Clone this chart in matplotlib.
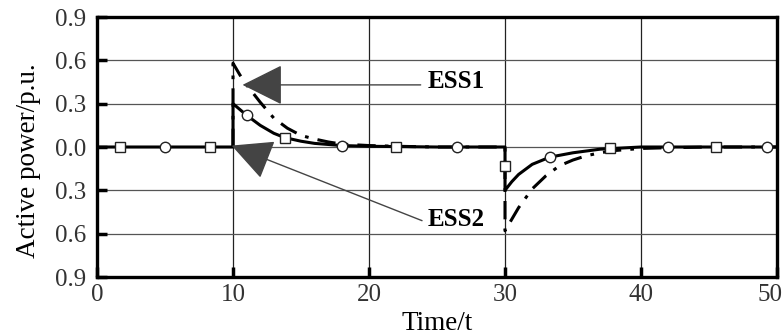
import matplotlib
matplotlib.use("Agg")
import matplotlib.pyplot as plt
import matplotlib.transforms as mtransforms
import numpy as np

# ---- data ----
t_ess2 = [0, 10, 10, 10.5, 11, 12, 13, 13.8, 15, 16, 18, 20, 25, 30, 30, 30.5, 31, 32, 33.3, 35, 37, 38, 40, 45, 50]
p_ess2 = [0, 0, 0.30, 0.26, 0.22, 0.15, 0.095, 0.065, 0.04, 0.025, 0.01, 0.005, 0, 0, -0.30, -0.24, -0.19, -0.12, -0.07, -0.04, -0.015, -0.01, 0, 0, 0]

t_ess1 = [10, 10, 10.5, 11, 12, 13, 14, 15, 16, 17, 18, 20, 22, 25, 30, 30, 30.5, 31, 32, 33, 34, 35, 36, 37, 38, 40, 42, 45, 50]
p_ess1 = [0, 0.58, 0.50, 0.43, 0.31, 0.20, 0.13, 0.08, 0.055, 0.035, 0.02, 0.01, 0.005, 0, 0, -0.58, -0.50, -0.42, -0.29, -0.20, -0.13, -0.09, -0.06, -0.04, -0.025, -0.01, -0.005, 0, 0]

t_sq = [1.7, 8.3, 13.8, 22, 30, 37.7, 45.5]
p_sq = [0, 0, 0.065, 0, -0.13, -0.01, 0]
t_ci = [5, 11, 18, 26.5, 33.3, 42, 49.3]
p_ci = [0, 0.22, 0.01, 0, -0.07, 0, 0]

xticks = [0, 10, 20, 30, 40, 50]
xtick_labels = ["0", "10", "20", "30", "40", "50"]
yticks = [0.9, 0.6, 0.3, 0.0, -0.3, -0.6, -0.9]
ytick_labels = ["0.9", "0.6", "0.3", "0.0", "0.3", "0.6", "0.9"]

plt.rcParams['font.family'] = ['Liberation Serif', 'DejaVu Serif']

fig = plt.figure(figsize=(7.84, 3.36), dpi=100)
ax = fig.add_axes([97/784, 1-277/336, 680/784, 260/336])

ax.set_xlim(0, 50)
ax.set_ylim(-0.9, 0.9)

# grid
for x in [10, 20, 30, 40]:
    ax.axvline(x, color='#222222', lw=0.9, zorder=1)
for y in [0.6, 0.3, 0.0, -0.3, -0.6]:
    ax.axhline(y, color='#555555', lw=0.9, zorder=1)

ax.plot(t_ess1, p_ess1, color='black', lw=2.2, linestyle=(0, (6, 3, 1.2, 3)), zorder=3)
ax.plot(t_ess2, p_ess2, color='black', lw=2.2, zorder=4)
ax.plot(t_sq, p_sq, linestyle='none', marker='s', ms=7, mfc='white', mec='#222222', mew=1.0, zorder=5)
ax.plot(t_ci, p_ci, linestyle='none', marker='o', ms=7.5, mfc='white', mec='#222222', mew=1.0, zorder=5)

ax.set_xticks(xticks)
ax.set_xticklabels(xtick_labels)
ax.set_yticks(yticks)
ax.set_yticklabels(ytick_labels)
ax.tick_params(axis='both', direction='in', length=7, width=2.5, labelsize=18, colors='black', labelcolor='#333333')
ax.tick_params(axis='x', pad=5)
ax.tick_params(axis='y', pad=8)
for s in ax.spines.values():
    s.set_linewidth(2.4)

# last x tick label sits slightly left in the reference
lbl = ax.get_xticklabels()[-1]
lbl.set_transform(lbl.get_transform() + mtransforms.ScaledTranslation(-7/100, 0, fig.dpi_scale_trans))

ax.set_xlabel('Time/t', fontsize=19.5)
ax.set_ylabel('Active power/p.u.', fontsize=19.5)
ax.xaxis.set_label_coords(0.5, (277-323)/260)
ax.xaxis.label.set_va('center')
ax.yaxis.set_label_coords((28-97)/680, (277-161)/260)
ax.yaxis.label.set_va('center')
ax.yaxis.label.set_ha('center')

# annotations
arrow_style = "-|>,head_length=2.6,head_width=1.3"
ax.annotate('', xy=(10.7, 0.43), xytext=(23.8, 0.43),
            arrowprops=dict(arrowstyle=arrow_style, color='#888888', lw=1.0,
                            fc='#444444', ec='#444444', shrinkA=0, shrinkB=0), zorder=6)
ax.text(24.3, 0.45, 'ESS1', fontsize=18, fontweight='bold', va='center', ha='left', zorder=6)

ax.annotate('', xy=(9.9, 0.01), xytext=(23.9, -0.51),
            arrowprops=dict(arrowstyle=arrow_style, color='#888888', lw=1.0,
                            fc='#444444', ec='#444444', shrinkA=0, shrinkB=0), zorder=6)
ax.text(24.3, -0.50, 'ESS2', fontsize=18, fontweight='bold', va='center', ha='left', zorder=6)

fig.savefig('out.png', dpi=100)
